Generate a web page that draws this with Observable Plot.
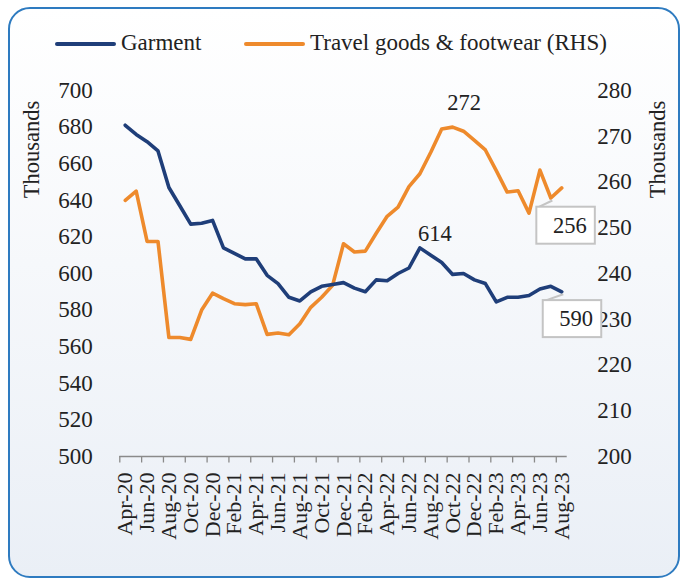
<!DOCTYPE html>
<html>
<head>
<meta charset="utf-8">
<script src="https://cdn.jsdelivr.net/npm/d3@7"></script>
<script src="https://cdn.jsdelivr.net/npm/@observablehq/plot@0.6"></script>
<style>
  body { margin: 0; background: #fff; }
  #wrap { position: relative; width: 686px; height: 583px; overflow: hidden; font-family: "Liberation Serif", "Times New Roman", serif; color: #222; }
  #frame { position: absolute; left: 8px; top: 7px; width: 668px; height: 567px; border: 2px solid #2E7BC0; border-radius: 22px;
           background: linear-gradient(#ffffff 0%, #f6f8fb 45%, #eaeff6 100%); }
  .sw { position: absolute; top: 42.3px; width: 61px; height: 4.2px; border-radius: 3px; }
  .lt { position: absolute; top: 31px; font-size: 23px; line-height: 24px; white-space: nowrap; }
  #chart { position: absolute; top: 70px; left: 0; }
</style>
</head>
<body>
<div id="wrap">
  <div id="frame"></div>
  <div id="legend"></div>
  <div id="chart"></div>
</div>
<script>
// ---- data ----
const months = ["Apr-20","May-20","Jun-20","Jul-20","Aug-20","Sep-20","Oct-20","Nov-20","Dec-20",
  "Jan-21","Feb-21","Mar-21","Apr-21","May-21","Jun-21","Jul-21","Aug-21","Sep-21","Oct-21","Nov-21","Dec-21",
  "Jan-22","Feb-22","Mar-22","Apr-22","May-22","Jun-22","Jul-22","Aug-22","Sep-22","Oct-22","Nov-22","Dec-22",
  "Jan-23","Feb-23","Mar-23","Apr-23","May-23","Jun-23","Jul-23","Aug-23"];
const garment = [681, 676, 672, 667, 647, 637, 627, 627.5, 629, 614, 611, 608, 608, 599, 594.5, 587, 585, 590, 593, 594,
  595, 592, 590, 596.5, 596, 600, 603, 614, 610, 606, 599.5, 600, 596.5, 594.5, 584.5, 587, 587, 588, 591.5, 593, 590];
const travel = [256, 258, 247, 247, 226, 226, 225.6, 232, 235.7, 234.5, 233.4, 233.2, 233.4, 226.7, 227, 226.6, 229,
  232.6, 234.8, 237.4, 246.5, 244.7, 244.9, 248.8, 252.5, 254.5, 259, 261.8, 266.5, 271.6, 272, 271.1, 269.1, 267,
  262.5, 257.8, 258.1, 253.2, 262.6, 256.5, 258.7];
const seriesNames = ["Garment", "Travel goods & footwear (RHS)"];
const leftTicks = [500, 520, 540, 560, 580, 600, 620, 640, 660, 680, 700];
const rightTicks = [200, 210, 220, 230, 240, 250, 260, 270, 280];
const axisTitle = "Thousands";
// annotated points: [month index, label]
const garmentPeak = [[27, "614"]];
const travelPeak = [[30, "272"]];
const callouts = [["travel", 39, "256"], ["garment", 40, "590"]];

// ---- styles ----
const NAVY = "#1F3E79", ORANGE = "#EE8A2C";
const FONT = "Liberation Serif";

// right axis (200..280) mapped onto left axis (500..700)
const toLeft = v => 500 + (v - 200) * 2.5;
const fromLeft = v => (v - 500) / 2.5 + 200;

// legend
const legend = document.getElementById("legend");
[[NAVY, 55, 121], [ORANGE, 244, 310]].forEach(([c, sx, tx], k) => {
  const s = document.createElement("div"); s.className = "sw"; s.style.left = sx + "px"; s.style.background = c; legend.appendChild(s);
  const t = document.createElement("div"); t.className = "lt"; t.style.left = tx + "px"; t.textContent = seriesNames[k]; legend.appendChild(t);
});

const idx = months.map((_, i) => i);
const val = (s, i) => s === "garment" ? garment[i] : toLeft(travel[i]);
const halfTicks = d3.range(-0.5, 40, 2);
const labelTicks = d3.range(0, 41, 2);

const chart = Plot.plot({
  width: 686, height: 513,
  marginLeft: 119.3, marginRight: 119.3, marginTop: 20, marginBottom: 127,
  style: {background: "transparent", fontFamily: FONT, fontSize: "22px", color: "#222", overflow: "visible"},
  x: {type: "linear", domain: [-0.5, 40.5]},
  y: {domain: [500, 700]},
  marks: [
    Plot.axisX(halfTicks, {tickSize: 6.5, stroke: "#8a8a8a", strokeWidth: 1.3, tickFormat: () => ""}),
    Plot.axisX(labelTicks, {tickSize: 0, tickPadding: 16, tickRotate: -90, tickFormat: i => months[i], fill: "#222", fontSize: 22}),
    Plot.ruleY([500], {stroke: "#8a8a8a", strokeWidth: 1.5}),
    Plot.axisY(leftTicks, {anchor: "left", tickSize: 0, tickPadding: 27, fill: "#222", fontSize: 23}),
    Plot.axisY(rightTicks.map(toLeft), {anchor: "right", tickSize: 0, tickPadding: 30, tickFormat: d => String(fromLeft(d)), fill: "#222", fontSize: 23}),
    Plot.text([axisTitle], {frameAnchor: "top-left", rotate: -90, textAnchor: "middle", lineAnchor: "middle", dx: -88.5, dy: 59, fill: "#222", fontSize: 22.5}),
    Plot.text([axisTitle], {frameAnchor: "top-right", rotate: -90, textAnchor: "middle", lineAnchor: "middle", dx: 91, dy: 59, fill: "#222", fontSize: 22.5}),
    Plot.line(idx, {x: i => i, y: i => toLeft(travel[i]), stroke: ORANGE, strokeWidth: 3.6, strokeLinejoin: "round"}),
    Plot.line(idx, {x: i => i, y: i => garment[i], stroke: NAVY, strokeWidth: 3.6, strokeLinejoin: "round"}),
    Plot.text(garmentPeak, {x: d => d[0], y: d => garment[d[0]], text: d => d[1], dx: 15, dy: -14, fill: "#222", fontSize: 22.5}),
    Plot.text(travelPeak, {x: d => d[0], y: d => toLeft(travel[d[0]]), text: d => d[1], dx: 11.5, dy: -24, fill: "#222", fontSize: 22.5})
  ]
});
document.getElementById("chart").appendChild(chart);

// callout boxes drawn through the plot's scales
const sx = chart.scale("x"), sy = chart.scale("y");
const svg = d3.select(chart);
const g = svg.append("g").attr("font-family", FONT).attr("font-size", 22.5);
callouts.forEach(([s, i, label]) => {
  const px = sx.apply(i), py = sy.apply(val(s, i));
  const off = s === "travel" ? [19.5, 27.7] : [15, 27.3];
  const cx = px + off[0], cy = py + off[1];
  const bx = cx - 33.5, by = cy - 18.5, bw = 58.5, bh = 37;
  g.append("line").attr("x1", px + 2).attr("y1", py + 3).attr("x2", bx + 1).attr("y2", by + 1)
    .attr("stroke", "#c4c4c4").attr("stroke-width", 2);
  g.append("rect").attr("x", bx).attr("y", by).attr("width", bw).attr("height", bh)
    .attr("fill", "#fff").attr("stroke", "#c4c4c4").attr("stroke-width", 2);
  g.append("text").attr("x", cx).attr("y", cy).attr("dy", "0.35em").attr("text-anchor", "middle").attr("fill", "#222").text(label);
});
</script>
</body>
</html>
